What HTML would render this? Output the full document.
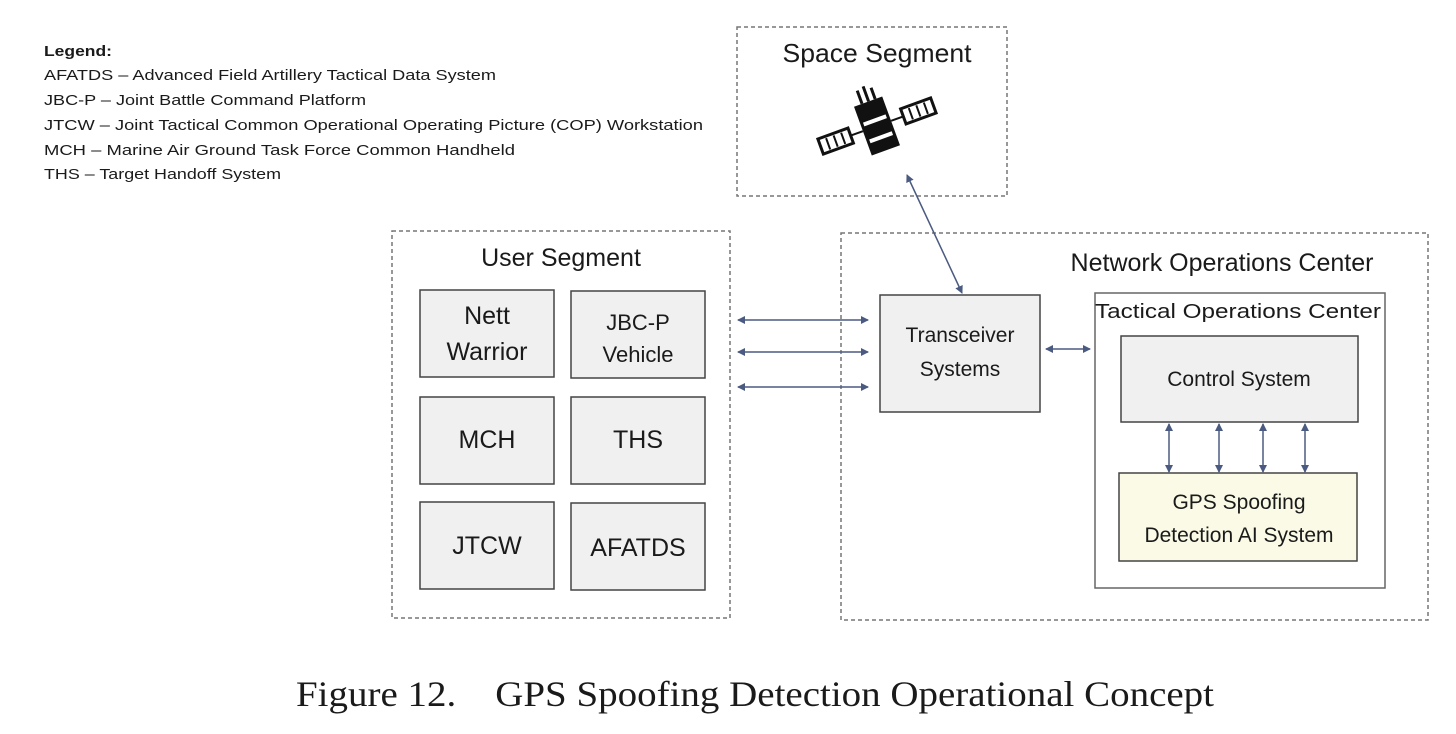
<!DOCTYPE html>
<html><head><meta charset="utf-8"><style>
html,body{margin:0;padding:0;background:#fff;}
svg{display:block;}
text{font-family:"Liberation Sans",sans-serif;fill:#1a1a1a;}
</style></head><body>
<svg width="1456" height="734" viewBox="0 0 1456 734" xmlns="http://www.w3.org/2000/svg">
<defs>
<marker id="a" markerWidth="8" markerHeight="8" refX="7" refY="4" orient="auto-start-reverse" markerUnits="userSpaceOnUse">
<path d="M0,0 L8,4 L0,8 z" fill="#4a5a80"/></marker>
</defs>
<g font-size="15">
<text x="44" y="56" font-weight="bold" textLength="68" lengthAdjust="spacingAndGlyphs">Legend:</text>
<text x="44" y="80" textLength="452" lengthAdjust="spacingAndGlyphs">AFATDS – Advanced Field Artillery Tactical Data System</text>
<text x="44" y="105" textLength="322" lengthAdjust="spacingAndGlyphs">JBC-P – Joint Battle Command Platform</text>
<text x="44" y="130" textLength="659" lengthAdjust="spacingAndGlyphs">JTCW – Joint Tactical Common Operational Operating Picture (COP) Workstation</text>
<text x="44" y="155" textLength="471" lengthAdjust="spacingAndGlyphs">MCH – Marine Air Ground Task Force Common Handheld</text>
<text x="44" y="179" textLength="237" lengthAdjust="spacingAndGlyphs">THS – Target Handoff System</text>
</g>
<g fill="none" stroke="#777" stroke-width="1.5" stroke-dasharray="4,3">
<rect x="737" y="27" width="270" height="169"/>
<rect x="392" y="231" width="338" height="387"/>
<rect x="841" y="233" width="587" height="387"/>
</g>
<text x="877" y="62" font-size="26" text-anchor="middle" textLength="189" lengthAdjust="spacingAndGlyphs">Space Segment</text>
<text x="561" y="266" font-size="25" text-anchor="middle">User Segment</text>
<text x="1222" y="271" font-size="25" text-anchor="middle">Network Operations Center</text>
<g transform="translate(877,126) rotate(-20)">
<rect x="-15" y="-26" width="30" height="52" fill="#111"/>
<rect x="-12" y="-8" width="24" height="4" fill="#fff"/>
<rect x="-12" y="10" width="24" height="4" fill="#fff"/>
<rect x="-8" y="-40" width="3" height="14" fill="#111"/>
<rect x="-1" y="-42" width="3" height="16" fill="#111"/>
<rect x="6" y="-38" width="3" height="12" fill="#111"/>
<line x1="-15" y1="0" x2="-28" y2="0" stroke="#111" stroke-width="2"/>
<line x1="15" y1="0" x2="28" y2="0" stroke="#111" stroke-width="2"/>
<rect x="-60" y="-8" width="32" height="16" fill="#fff" stroke="#111" stroke-width="3"/>
<rect x="28" y="-8" width="32" height="16" fill="#fff" stroke="#111" stroke-width="3"/>
<path d="M-52,-6v12M-44,-6v12M-36,-6v12M36,-6v12M44,-6v12M52,-6v12" stroke="#111" stroke-width="2"/>
</g>
<g fill="#f0f0f0" stroke="#444" stroke-width="1.5">
<rect x="420" y="290" width="134" height="87"/>
<rect x="571" y="291" width="134" height="87"/>
<rect x="420" y="397" width="134" height="87"/>
<rect x="571" y="397" width="134" height="87"/>
<rect x="420" y="502" width="134" height="87"/>
<rect x="571" y="503" width="134" height="87"/>
</g>
<text x="487" y="324" font-size="25" text-anchor="middle">Nett</text>
<text x="487" y="360" font-size="25" text-anchor="middle">Warrior</text>
<text x="638" y="330" font-size="22" text-anchor="middle">JBC-P</text>
<text x="638" y="362" font-size="22" text-anchor="middle">Vehicle</text>
<text x="487" y="448" font-size="25" text-anchor="middle">MCH</text>
<text x="638" y="448" font-size="25" text-anchor="middle">THS</text>
<text x="487" y="554" font-size="25" text-anchor="middle">JTCW</text>
<text x="638" y="556" font-size="25" text-anchor="middle">AFATDS</text>
<rect x="880" y="295" width="160" height="117" fill="#f0f0f0" stroke="#444" stroke-width="1.5"/>
<text x="960" y="342" font-size="21" text-anchor="middle">Transceiver</text>
<text x="960" y="376" font-size="21" text-anchor="middle">Systems</text>
<rect x="1095" y="293" width="290" height="295" fill="#fff" stroke="#666" stroke-width="1.5"/>
<text x="1238" y="318" font-size="20" text-anchor="middle" textLength="286" lengthAdjust="spacingAndGlyphs">Tactical Operations Center</text>
<rect x="1121" y="336" width="237" height="86" fill="#f0f0f0" stroke="#444" stroke-width="1.5"/>
<text x="1239" y="386" font-size="21" text-anchor="middle">Control System</text>
<rect x="1119" y="473" width="238" height="88" fill="#fafae6" stroke="#444" stroke-width="1.5"/>
<text x="1239" y="509" font-size="21" text-anchor="middle">GPS Spoofing</text>
<text x="1239" y="542" font-size="21" text-anchor="middle">Detection AI System</text>
<g stroke="#4a5a80" stroke-width="1.5" marker-start="url(#a)" marker-end="url(#a)">
<line x1="738" y1="320" x2="868" y2="320"/>
<line x1="738" y1="352" x2="868" y2="352"/>
<line x1="738" y1="387" x2="868" y2="387"/>
<line x1="1046" y1="349" x2="1090" y2="349"/>
<line x1="907" y1="175" x2="962" y2="293"/>
<line x1="1169" y1="424" x2="1169" y2="472"/>
<line x1="1219" y1="424" x2="1219" y2="472"/>
<line x1="1263" y1="424" x2="1263" y2="472"/>
<line x1="1305" y1="424" x2="1305" y2="472"/>
</g>
<text x="296" y="706" font-size="36" textLength="918" lengthAdjust="spacingAndGlyphs" style="font-family:'Liberation Serif',serif" xml:space="preserve">Figure 12.    GPS Spoofing Detection Operational Concept</text>
</svg>
</body></html>
